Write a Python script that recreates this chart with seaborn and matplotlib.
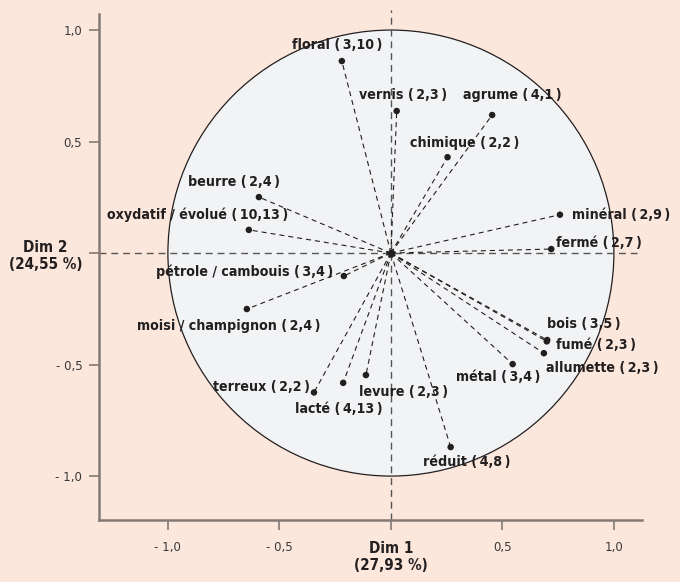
import matplotlib
matplotlib.use("Agg")
import matplotlib.pyplot as plt
from matplotlib import font_manager as fm
import seaborn as sns
import pandas as pd
from matplotlib.patches import Circle

# descriptors with (n1, n2) counts
names = ["floral", "vernis", "agrume", "chimique", "minéral", "fermé",
         "beurre", "oxydatif / évolué", "pétrole / cambouis", "moisi / champignon",
         "terreux", "lacté", "levure", "réduit", "métal", "bois", "fumé", "allumette"]
counts = ["3,10", "2,3", "4,1", "2,2", "2,9", "2,7",
          "2,4", "10,13", "3,4", "2,4",
          "2,2", "4,13", "2,3", "4,8", "3,4", "3,5", "2,3", "2,3"]
dim1 = [-0.220, 0.026, 0.454, 0.254, 0.758, 0.719,
        -0.592, -0.637, -0.211, -0.646,
        -0.345, -0.214, -0.112, 0.268, 0.546, 0.701, 0.699, 0.686]
dim2 = [0.861, 0.637, 0.619, 0.430, 0.172, 0.018,
        0.251, 0.104, -0.103, -0.251,
        -0.625, -0.582, -0.547, -0.870, -0.498, -0.390, -0.396, -0.449]

xticks = [-1.0, -0.5, 0.0, 0.5, 1.0]
xtick_labels = ["- 1,0", "- 0,5", "Dim 1\n(27,93 %)", "0,5", "1,0"]
yticks = [-1.0, -0.5, 0.0, 0.5, 1.0]
ytick_labels = ["- 1,0", "- 0,5", "Dim 2\n(24,55 %)", "0,5", "1,0"]

# label placement (pixels from the dot, ha)
label_pos = [(-5, 16, "center"), (6, 16, "center"), (20, 20, "center"), (17, 14, "center"),
             (12, 0, "left"), (5, 6, "left"),
             (-25, 15, "center"), (-51, 15, "center"), (-11, 4, "right"), (-18, -17, "center"),
             (-4, 5, "right"), (-4, -26, "center"), (38, -17, "center"), (16, -15, "center"),
             (-14, -13, "center"), (37, 16, "center"), (9, -4, "left"), (58, -15, "center")]

df = pd.DataFrame({"name": names, "counts": counts, "dim1": dim1, "dim2": dim2})

BG = "#FCE7DC"
CIRCLE = "#F2F3F5"
SPINE = "#857a76"
TXT = "#231f20"
THIN = "\u2009"


def pick_font(weight):
    # the original uses a condensed type, try the narrow faces first
    tries = [dict(family="Liberation Sans Narrow"),
             dict(family="DejaVu Sans", stretch="condensed"),
             dict(family="Noto Sans", stretch="condensed"),
             dict(family="Roboto Condensed")]
    for kw in tries:
        prop = fm.FontProperties(weight=weight, **kw)
        try:
            path = fm.findfont(prop, fallback_to_default=False)
        except ValueError:
            continue
        if "Narrow" in path or "Condensed" in path:
            return fm.FontProperties(fname=path)
    return fm.FontProperties(family="DejaVu Sans", weight=weight)


BOLD = pick_font("bold")
REG = pick_font("normal")

sns.set_style("white")

fig = plt.figure(figsize=(6.8, 5.82), dpi=100, facecolor=BG)
renderer = fig.canvas.get_renderer()


def fit_size(prop, text, width_px):
    # font size that gives the text about the width it has in the picture
    p = prop.copy()
    p.set_size(10)
    t = fig.text(0, 0, text, fontproperties=p)
    w = t.get_window_extent(renderer).width
    t.remove()
    return 10 * width_px / w


LABEL_SIZE = min(fit_size(BOLD, f"beurre ({THIN}2,4{THIN})", 92), 11)
TICK_SIZE = min(fit_size(REG, "- 0,5", 27), 10)
DIM_SIZE = min(fit_size(BOLD, "(24,55 %)", 74), 13)

ax = fig.add_axes([99 / 680, 1 - 520 / 582, 543 / 680, 506 / 582])
ax.set_facecolor(BG)
ax.set_xlim(-1.309, 1.126)
ax.set_ylim(-1.197, 1.072)

ax.add_patch(Circle((0, 0), 1.0, facecolor=CIRCLE, edgecolor="#231f20", lw=0.9, zorder=1))

# cross hairs
ax.plot([-1.309, 1.103], [0, 0], color="#555555", lw=1.0, dashes=(5, 3.5), zorder=2, clip_on=False)
ax.plot([0, 0], [-1.197, 1.09], color="#555555", lw=1.0, dashes=(5, 3.5), zorder=2, clip_on=False)

# radial lines
for x, y in zip(df["dim1"], df["dim2"]):
    ax.plot([0, x], [0, y], color="#231f20", lw=0.8, dashes=(4.5, 3.6), zorder=3)

sns.scatterplot(data=df, x="dim1", y="dim2", ax=ax, color="#231f20", s=22,
                edgecolor="none", zorder=4, legend=False)
ax.plot([0], [0], "o", color="#231f20", ms=4.5, zorder=4)

lab_prop = BOLD.copy()
lab_prop.set_size(LABEL_SIZE)
for i, row in df.iterrows():
    dx, dy, ha = label_pos[i]
    ax.annotate(f"{row['name']} ({THIN}{row['counts']}{THIN})", (row["dim1"], row["dim2"]),
                xytext=(dx, dy), textcoords="offset pixels", ha=ha, va="center",
                fontproperties=lab_prop, color=TXT, zorder=5)

ax.set_xlabel("")
ax.set_ylabel("")
ax.set_xticks(xticks)
ax.set_xticklabels(xtick_labels)
ax.set_yticks(yticks)
ax.set_yticklabels(ytick_labels)
ax.tick_params(axis="both", direction="out", length=7, width=1.2, color=SPINE,
               labelcolor="#3a3a3a", left=True, bottom=True)
ax.tick_params(axis="x", pad=8)
ax.tick_params(axis="y", pad=5)
tick_prop = REG.copy()
tick_prop.set_size(TICK_SIZE)
dim_prop = BOLD.copy()
dim_prop.set_size(DIM_SIZE)
for lab in ax.get_xticklabels() + ax.get_yticklabels():
    if lab.get_text().startswith("Dim"):
        lab.set_fontproperties(dim_prop)
        lab.set_color(TXT)
        lab.set_multialignment("center")
    else:
        lab.set_fontproperties(tick_prop)

sns.despine(ax=ax)
for side in ["left", "bottom"]:
    ax.spines[side].set_color(SPINE)
    ax.spines[side].set_linewidth(1.8)

fig.savefig("out.png", dpi=100, facecolor=BG)
